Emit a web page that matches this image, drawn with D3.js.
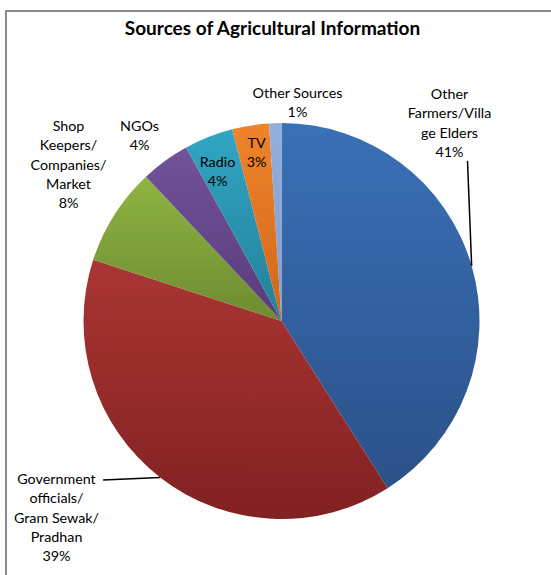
<!DOCTYPE html>
<html>
<head>
<meta charset="utf-8">
<script src="https://cdn.jsdelivr.net/npm/d3@7"></script>
<style>
  body { margin:0; background:#fff; }
  text { font-family: Lato, "Open Sans", sans-serif; fill:#000; }
</style>
</head>
<body>
<div class="canvas"></div>
<script>
//DATA
var categories = ['Other Farmers/Village Elders', 'Government officials/Gram Sewak/Pradhan',
  'Shop Keepers/Companies/Market', 'NGOs', 'Radio', 'TV', 'Other Sources'];
var values = [41, 39, 8, 4, 4, 3, 1];
var labelLines = [
  ['Other', 'Farmers/Villa', 'ge Elders'],
  ['Government', 'officials/', 'Gram Sewak/', 'Pradhan'],
  ['Shop', 'Keepers/', 'Companies/', 'Market'],
  ['NGOs'],
  ['Radio'],
  ['TV'],
  ['Other Sources']
];
var topColors = ['#3a70b6', '#a93634', '#8fb443', '#72529a', '#31a6c4', '#f0842b', '#93afdc'];
var bottomColors = ['#2b5189', '#822122', '#6e8b31', '#583c7b', '#237f98', '#d0661b', '#7f9ccb'];

//VIZ DIMENSIONS
var w = 551, h = 575;
var cx = 281.5, cy = 321, r = 198;

//label anchors (first line centre), relative to pie centre; leader = draw a line from the slice
var labelLayout = [
  { x: 168, y: -227, leader: true },
  { x: -225, y: 158, leader: true },
  { x: -213, y: -195, leader: false },
  { x: -142, y: -195, leader: false },
  { x: -64, y: -159, leader: false },
  { x: -25, y: -178, leader: false },
  { x: 16, y: -228, leader: false }
];
var lineH = 19.3;

//SET THE SVG
var svg = d3.select('.canvas').append('svg')
  .attr('width', w)
  .attr('height', h);

//FRAME
svg.append('rect')
  .attr('x', 6).attr('y', 11)
  .attr('width', 600).attr('height', 600)
  .attr('fill', '#fff')
  .attr('stroke', '#8a8a8a')
  .attr('stroke-width', 2);

//TITLE
svg.append('text')
  .attr('x', 272.5).attr('y', 35)
  .attr('text-anchor', 'middle')
  .style('font-weight', 'bold')
  .style('font-size', '19px')
  .text('Sources of Agricultural Information');

//GRADIENTS
var defs = svg.append('defs');
categories.forEach(function(c, i) {
  var g = defs.append('linearGradient')
    .attr('id', 'grad' + i)
    .attr('x1', '0%').attr('y1', '0%')
    .attr('x2', '0%').attr('y2', '100%');
  g.append('stop').attr('offset', '0%').attr('stop-color', topColors[i]);
  g.append('stop').attr('offset', '100%').attr('stop-color', bottomColors[i]);
});

//PIE
var pie = d3.pie().sort(null).value(function(d) { return d; });
var arc = d3.arc().innerRadius(0).outerRadius(r);
var arcs = pie(values);

var g = svg.append('g').attr('transform', 'translate(' + cx + ',' + cy + ')');

g.selectAll('.slice')
  .data(arcs)
  .enter().append('path')
    .attr('class', 'slice')
    .attr('d', arc)
    .attr('fill', function(d, i) { return 'url(#grad' + i + ')'; });

//LABELS
arcs.forEach(function(d, i) {
  var lay = labelLayout[i];
  var lines = labelLines[i].concat([values[i] + '%']);
  var t = g.append('text')
    .attr('text-anchor', 'middle')
    .style('font-size', '14.3px');
  lines.forEach(function(l, j) {
    t.append('tspan')
      .attr('x', lay.x)
      .attr('y', lay.y + j * lineH)
      .attr('dy', '0.35em')
      .text(l);
  });

  if (lay.leader) {
    var mid = (d.startAngle + d.endAngle) / 2;
    var ex = r * Math.sin(mid), ey = -r * Math.cos(mid);
    var sx, sy;
    if (Math.sin(mid) > 0) {
      // line starts under the label
      sx = lay.x + 18; sy = lay.y + (lines.length - 1) * lineH + 9;
    } else {
      // line starts right of first line
      var bb = t.node().getBBox();
      sx = bb.x + bb.width + 4; sy = lay.y + 1;
    }
    g.append('path')
      .attr('d', 'M' + sx + ',' + sy + 'L' + ex + ',' + ey)
      .attr('fill', 'none')
      .attr('stroke', '#000')
      .attr('stroke-width', 1.5);
  }
});
</script>
</body>
</html>
